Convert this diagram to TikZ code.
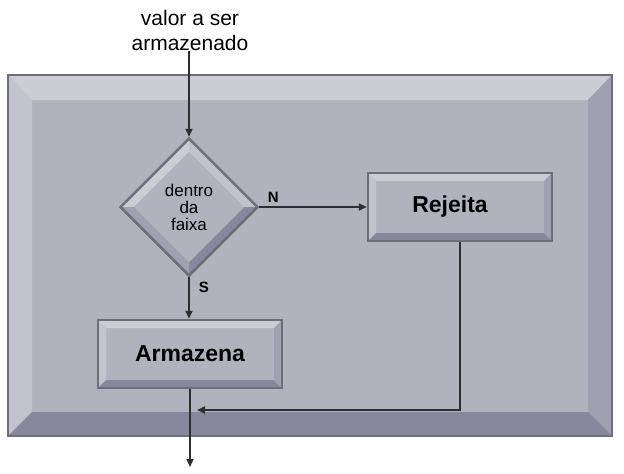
\documentclass[tikz,border=0pt]{standalone}
\usepackage{fontspec}
\setmainfont{Liberation Sans}
\usetikzlibrary{arrows.meta,positioning,shapes.geometric,calc}
\definecolor{PanelFace}{RGB}{178,178,190}
\definecolor{PanelLight}{RGB}{204,204,213}
\definecolor{PanelMid}{RGB}{160,160,176}
\definecolor{PanelDark}{RGB}{136,136,156}
\definecolor{PanelEdge}{RGB}{110,110,120}
\definecolor{LineGray}{RGB}{45,45,50}

\tikzset{
  bevelbox/.style={draw=PanelEdge,line width=2.5pt,fill=PanelFace,minimum width=184pt,minimum height=68pt,inner sep=0pt,
    font=\fontsize{23}{26}\selectfont\bfseries,
    path picture={
      \path (path picture bounding box.north west) coordinate (nw)
            (path picture bounding box.north east) coordinate (ne)
            (path picture bounding box.south west) coordinate (sw)
            (path picture bounding box.south east) coordinate (se);
      \fill[PanelLight] (nw) -- (ne) -- ([shift={(-8pt,-8pt)}]ne) -- ([shift={(8pt,-8pt)}]nw) -- cycle;
      \fill[PanelLight!70!PanelFace] (nw) -- (sw) -- ([shift={(8pt,8pt)}]sw) -- ([shift={(8pt,-8pt)}]nw) -- cycle;
      \fill[PanelDark] (sw) -- (se) -- ([shift={(-8pt,8pt)}]se) -- ([shift={(8pt,8pt)}]sw) -- cycle;
      \fill[PanelMid] (ne) -- (se) -- ([shift={(-8pt,8pt)}]se) -- ([shift={(-8pt,-8pt)}]ne) -- cycle;
    }},
  decision/.style={diamond,draw=PanelEdge,line width=2.5pt,fill=PanelFace,minimum width=138pt,minimum height=138pt,inner sep=0pt,
    align=center,font=\fontsize{17}{17}\selectfont,
    path picture={
      \path (path picture bounding box.north) coordinate (dn)
            (path picture bounding box.east) coordinate (de)
            (path picture bounding box.south) coordinate (ds)
            (path picture bounding box.west) coordinate (dw);
      \fill[PanelLight] (dw) -- (dn) -- ([yshift=-13pt]dn) -- ([xshift=13pt]dw) -- cycle;
      \fill[PanelLight!60!PanelFace] (dn) -- (de) -- ([xshift=-13pt]de) -- ([yshift=-13pt]dn) -- cycle;
      \fill[PanelDark] (de) -- (ds) -- ([yshift=13pt]ds) -- ([xshift=-13pt]de) -- cycle;
      \fill[PanelMid] (ds) -- (dw) -- ([xshift=13pt]dw) -- ([yshift=13pt]ds) -- cycle;
    }},
  flow/.style={draw=LineGray,line width=1.8pt,-{Triangle[length=8pt,width=7pt]}},
  answer/.style={font=\fontsize{15}{17}\selectfont\bfseries,inner sep=1pt},
}

\begin{document}
\begin{tikzpicture}[x=1pt,y=-1pt]
\useasboundingbox (0,0) rectangle (624,474);
% painel de fundo
\fill[white] (0,0) rectangle (624,474);
\fill[PanelFace] (8,75) rectangle (612,436);
\fill[PanelLight] (8,75) -- (612,75) -- (588,100) -- (32,100) -- cycle;
\fill[PanelLight!70!PanelFace] (8,75) -- (8,436) -- (32,412) -- (32,100) -- cycle;
\fill[PanelMid] (612,75) -- (612,436) -- (588,412) -- (588,100) -- cycle;
\fill[PanelDark] (8,436) -- (612,436) -- (588,412) -- (32,412) -- cycle;
\draw[PanelEdge,line width=2.5pt] (8,75) rectangle (612,436);

\node[font=\fontsize{21}{25}\selectfont,align=center,inner sep=1pt] (entrada) at (190,30) {valor a ser\\armazenado};
\node[decision] (faixa) at (189,207) {dentro\\da\\faixa};
\node[bevelbox] (rejeita) at (460,207) {\hspace*{-20pt}\raisebox{4pt}{Rejeita}};
\node[bevelbox] (armazena) at (190,354) {Armazena};
\coordinate (saida) at (190,467);
\coordinate (retorno) at (197,410);

\draw[flow] (entrada.south -| faixa.north) -- (faixa.north);
\draw[flow] (faixa.east) -- node[answer,above=3pt,pos=0.13] {N} (faixa.east -| rejeita.west);
\draw[flow] (faixa.south) -- node[answer,right=8pt,pos=0.25] {S} (faixa.south |- armazena.north);
\draw[flow] (armazena.south) -- (saida);
\draw[flow] (rejeita.south) |- (retorno);
\end{tikzpicture}
\end{document}
